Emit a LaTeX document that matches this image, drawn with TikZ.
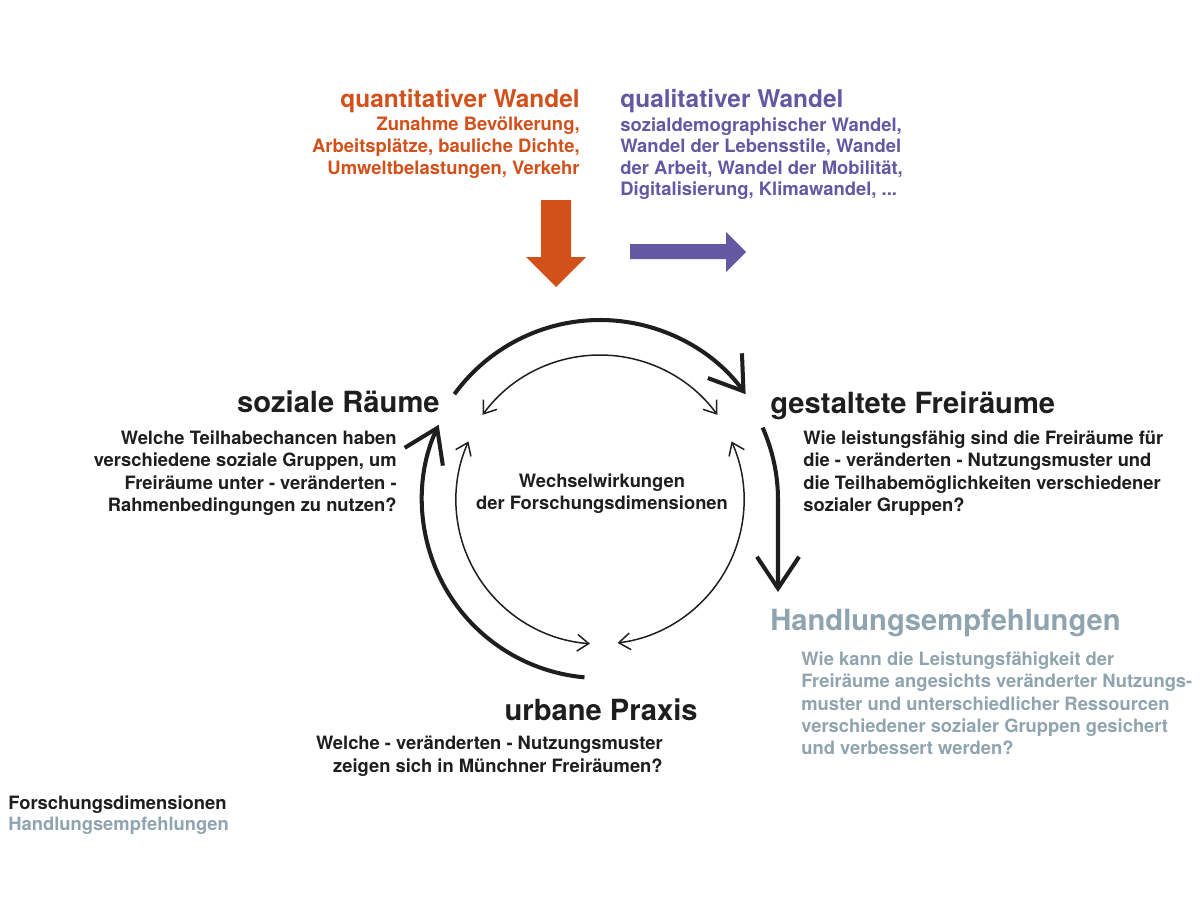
\documentclass[tikz,border=0pt]{standalone}
\usepackage{fontspec}
\setmainfont{TeX Gyre Heros}
\usetikzlibrary{arrows.meta}

\definecolor{quant}{HTML}{D2501A}
\definecolor{qual}{HTML}{6558A2}
\definecolor{handl}{HTML}{8FA4AE}
\definecolor{ink}{HTML}{1E1E1E}

\tikzset{
  dimtitle/.style={inner sep=0pt,font=\fontsize{16.6}{20}\selectfont\bfseries},
  wandeltitle/.style={inner sep=0pt,font=\fontsize{13.9}{17}\selectfont\bfseries},
  question/.style={inner sep=0pt,font=\fontsize{10.45}{12.8}\selectfont\bfseries},
  wandeltext/.style={inner sep=0pt,font=\fontsize{10.5}{12.3}\selectfont\bfseries},
  thickarc/.style={line width=2.3pt,-{Straight Barb[length=18pt,width=24pt]}},
  thinarc/.style={line width=0.85pt,{Straight Barb[length=6.5pt,width=9.5pt]}-{Straight Barb[length=6.5pt,width=9.5pt]}},
}

\begin{document}
\begin{tikzpicture}[x=0.02cm,y=-0.02cm,color=ink]

\path[use as bounding box] (0,0) rectangle (1200,899);

%%%%%%%%%%%%%%%%%%%%%%%%
% Wandel
%%%%%%%%%%%%%%%%%%%%%%%%

\node[wandeltitle,anchor=base east,quant] (qnt) at (580,107) {quantitativer Wandel};
\node[wandeltext,anchor=north east,align=right,quant] (qnttxt) at (580,117)
  {Zunahme Bevölkerung,\\Arbeitsplätze, bauliche Dichte,\\Umweltbelastungen, Verkehr};

\node[wandeltitle,anchor=base west,qual] (qlt) at (620,107) {qualitativer Wandel};
\node[wandeltext,anchor=north west,align=left,qual] (qlttxt) at (620,117)
  {sozialdemographischer Wandel,\\Wandel der Lebensstile, Wandel\\der Arbeit, Wandel der Mobilität,\\Digitalisierung, Klimawandel, ...};

\fill[quant] (541,200) -- (571,200) -- (571,257) -- (586,257) -- (556,287)
  -- (526,257) -- (541,257) -- cycle;
\fill[qual] (630,244) -- (726,244) -- (726,232) -- (746,252) -- (726,272)
  -- (726,259) -- (630,259) -- cycle;

%%%%%%%%%%%%%%%%%%%%%%%%
% Forschungsdimensionen
%%%%%%%%%%%%%%%%%%%%%%%%

\node[dimtitle,anchor=base east] (sr) at (440,412) {soziale Räume};
\node[question,anchor=north east,align=right] (srtxt) at (397,430)
  {Welche Teilhabechancen haben\\verschiedene soziale Gruppen, um\\Freiräume unter - veränderten -\\Rahmenbedingungen zu nutzen?};

\node[dimtitle,anchor=base west] (gf) at (770,413) {gestaltete Freiräume};
\node[question,anchor=north west,align=left] (gftxt) at (803,430)
  {Wie leistungsfähig sind die Freiräume für\\die - veränderten - Nutzungsmuster und\\die Teilhabemöglichkeiten verschiedener\\sozialer Gruppen?};

\node[dimtitle,anchor=base east] (up) at (698,720) {urbane Praxis};
\node[question,anchor=north east,align=right] (uptxt) at (663,736)
  {Welche - veränderten - Nutzungsmuster\\zeigen sich in Münchner Freiräumen?};

\node[dimtitle,anchor=base west,handl] (he) at (770,630) {Handlungsempfehlungen};
\node[question,anchor=north west,align=left,handl] (hetxt) at (801,651)
  {Wie kann die Leistungsfähigkeit der\\Freiräume angesichts veränderter Nutzungs-\\muster und unterschiedlicher Ressourcen\\verschiedener sozialer Gruppen gesichert\\und verbessert werden?};

\node[question,anchor=north,align=center] (ww) at (602,473)
  {Wechselwirkungen\\der Forschungsdimensionen};

%%%%%%%%%%%%%%%%%%%%%%%%
% Kreislauf
%%%%%%%%%%%%%%%%%%%%%%%%

\coordinate (m) at (600,500);
\coordinate (hend) at (778,592);

\draw[thickarc] ([shift={(-144:180)}]m) arc[start angle=-144,end angle=-36,radius=180];
\draw[thickarc] ([shift={(95:178)}]m) arc[start angle=95,end angle=205,radius=178];
\draw[thickarc] ([shift={(-24:178)}]m) arc[start angle=-24,end angle=0,radius=178] -- (hend);

\draw[thinarc] ([shift={(-144:145)}]m) arc[start angle=-144,end angle=-36,radius=145];
\draw[thinarc] ([shift={(-156:144)}]m) arc[start angle=-156,end angle=-266,radius=144];
\draw[thinarc] ([shift={(-24:144)}]m) arc[start angle=-24,end angle=83,radius=144];

%%%%%%%%%%%%%%%%%%%%%%%%
% Legende
%%%%%%%%%%%%%%%%%%%%%%%%

\node[question,anchor=north west] (lfd) at (8,795) {Forschungsdimensionen};
\node[question,anchor=north west,handl] (lhe) at (8,817) {Handlungsempfehlungen};

\end{tikzpicture}
\end{document}
